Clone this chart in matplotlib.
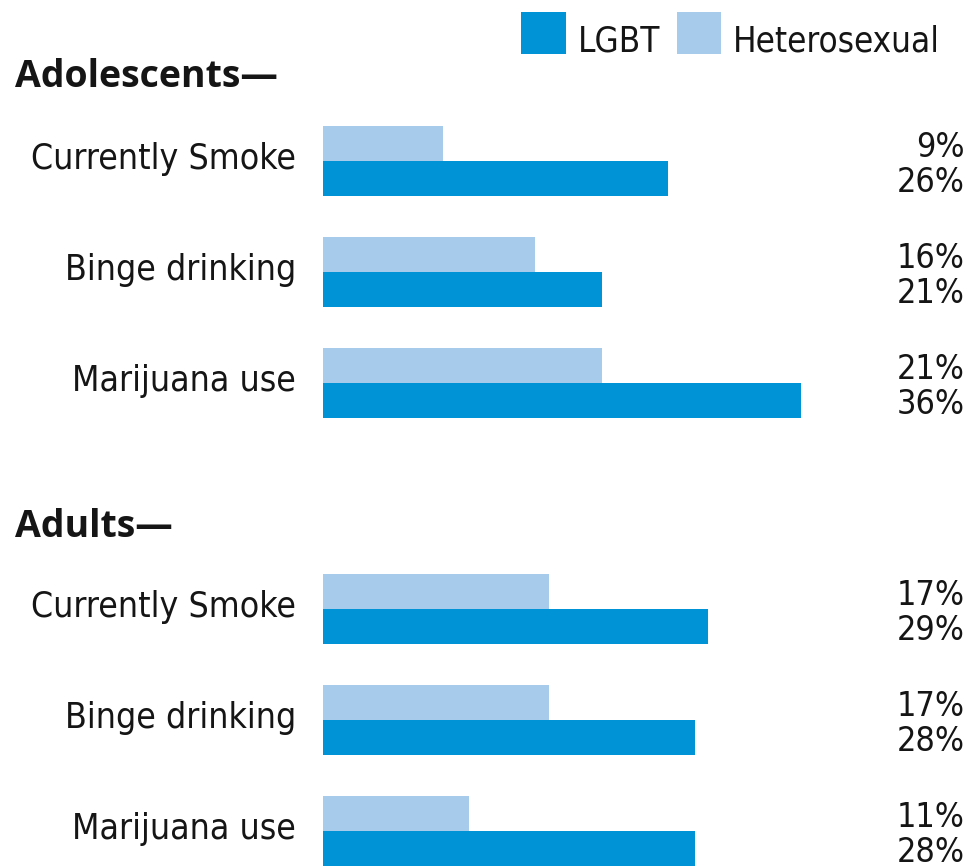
import numpy as np
import matplotlib
matplotlib.use("Agg")
import matplotlib.pyplot as plt
from matplotlib.transforms import blended_transform_factory
from matplotlib.patches import Rectangle

# ---- data ----
categories = ["Currently Smoke", "Binge drinking", "Marijuana use"]
groups = ["Adolescents\u2014", "Adults\u2014"]
adol_lgbt = [26, 21, 36]
adol_hetero = [9, 16, 21]
adult_lgbt = [29, 28, 28]
adult_hetero = [17, 17, 11]
series_names = ["LGBT", "Heterosexual"]

# ---- style ----
C_LGBT = "#0094d6"
C_HET = "#a7cbeb"
TXT = "#151515"
W, H = 971, 866
NARROW = ["DejaVu Sans"]
BOLD = ["Open Sans", "DejaVu Sans"]

fig = plt.figure(figsize=(W / 100, H / 100), dpi=100)
px_per_pct = 13.28
slot = 111.0
left_px = 323
ax = fig.add_axes([left_px / W, 0, 1 - left_px / W, 1])
ax.set_xlim(0, (W - left_px) / px_per_pct)
first_center_px = 161
ax.set_ylim((H - first_center_px) / slot, -first_center_px / slot)
ax.axis("off")

bh = 35 / slot
adol_pos = np.arange(3)
adult_pos = np.arange(3) + 4.04

trans_lab = blended_transform_factory(fig.transFigure, ax.transData)
kw = dict(family=NARROW, fontstretch="condensed", color=TXT)

for pos, lg, ht in [(adol_pos, adol_lgbt, adol_hetero), (adult_pos, adult_lgbt, adult_hetero)]:
    ax.barh(pos - bh / 2, ht, height=bh, color=C_HET, edgecolor="none")
    ax.barh(pos + bh / 2, lg, height=bh, color=C_LGBT, edgecolor="none")
    for p, cat, l, h in zip(pos, categories, lg, ht):
        ax.text(296 / W, p + 8 / slot, cat, transform=trans_lab, ha="right", va="baseline",
                fontsize=25.5, **kw)
        ax.text(965 / W, p - 4 / slot, f"{h}%", transform=trans_lab, ha="right", va="baseline",
                fontsize=24.5, **kw)
        ax.text(965 / W, p + 31 / slot, f"{l}%", transform=trans_lab, ha="right", va="baseline",
                fontsize=24.5, **kw)

# group headers
fig.text(15 / W, 1 - 87 / H, groups[0], ha="left", va="baseline", fontsize=27,
         fontweight="bold", family=BOLD, color=TXT)
fig.text(15 / W, 1 - 537 / H, groups[1], ha="left", va="baseline", fontsize=27,
         fontweight="bold", family=BOLD, color=TXT)

# legend
fig.add_artist(Rectangle((521 / W, 1 - 54 / H), 45 / W, 42 / H, transform=fig.transFigure,
                         color=C_LGBT, lw=0))
fig.add_artist(Rectangle((677 / W, 1 - 54 / H), 44 / W, 42 / H, transform=fig.transFigure,
                         color=C_HET, lw=0))
fig.text(578 / W, 1 - 52 / H, series_names[0], ha="left", va="baseline", fontsize=25, **kw)
fig.text(733 / W, 1 - 52 / H, series_names[1], ha="left", va="baseline", fontsize=25, **kw)

fig.savefig("out.png", dpi=100, facecolor="white")
